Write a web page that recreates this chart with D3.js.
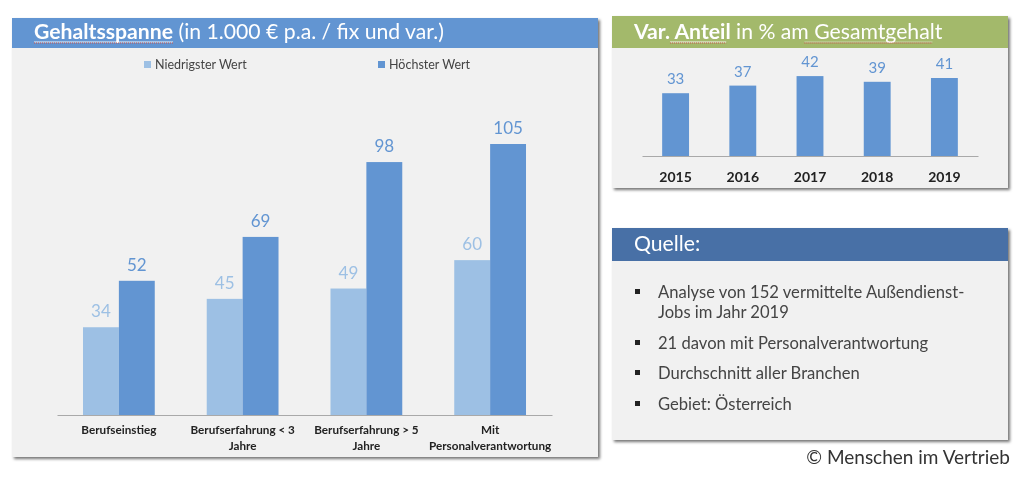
<!DOCTYPE html>
<html>
<head>
<meta charset="utf-8">
<script src="https://cdnjs.cloudflare.com/ajax/libs/d3/7.8.5/d3.min.js"></script>
<style>
  html, body { margin: 0; padding: 0; background: #fff; }
  svg { display: block; font-family: Lato, 'Open Sans', sans-serif; filter: blur(0.35px); }
  .panel { filter: drop-shadow(2px 2px 1.5px rgba(70, 70, 70, 0.75)); }
  .domain { stroke: #a9a9a9; stroke-width: 1; }
  .tick line { display: none; }
</style>
</head>
<body>
<div id="chart-area"></div>
<script>
let salaryCategories = [
  ['Berufseinstieg'],
  ['Berufserfahrung < 3', 'Jahre'],
  ['Berufserfahrung > 5', 'Jahre'],
  ['Mit', 'Personalverantwortung'],
];
let lowestValues = [34, 45, 49, 60];
let highestValues = [52, 69, 98, 105];
let seriesNames = ['Niedrigster Wert', 'Höchster Wert'];

let years = ['2015', '2016', '2017', '2018', '2019'];
let variableShare = [33, 37, 42, 39, 41];

let sourceLines = [
  ['Analyse von 152 vermittelte Außendienst-', 'Jobs im Jahr 2019'],
  ['21 davon mit Personalverantwortung'],
  ['Durchschnitt aller Branchen'],
  ['Gebiet: Österreich'],
];

let lightBlue = '#9dc0e4';
let midBlue = '#6295d2';
let width = 1024;
let height = 487;

let chart = d3
  .select('#chart-area')
  .append('svg')
  .attr('width', width)
  .attr('height', height);

//panel with coloured header bar
function panel(x, y, w, h, headerH, color) {
  let g = chart.append('g').attr('class', 'panel');
  g.append('rect').attr('x', x).attr('y', y).attr('width', w).attr('height', h).attr('fill', '#f1f1f1');
  g.append('rect').attr('x', x).attr('y', y).attr('width', w).attr('height', headerH).attr('fill', color);
}

//header text made of bold/regular runs, spell-check underline drawn under marked runs
function title(x, y, runs) {
  let t = chart
    .append('text')
    .attr('x', x)
    .attr('y', y)
    .attr('fill', '#fff')
    .style('font-size', '21.2px');
  let cursor = x;
  runs.forEach((r) => {
    let span = t
      .append('tspan')
      .style('font-weight', r.bold ? 700 : 400)
      .text(r.text);
    let len = span.node().getComputedTextLength();
    if (r.squiggle) {
      chart
        .append('line')
        .attr('x1', cursor)
        .attr('x2', cursor + len)
        .attr('y1', y + 3)
        .attr('y2', y + 3)
        .attr('stroke', '#fff')
        .attr('stroke-opacity', r.bold ? 0.9 : 0.45);
      chart
        .append('line')
        .attr('x1', cursor)
        .attr('x2', cursor + len)
        .attr('y1', y + 4)
        .attr('y2', y + 4)
        .attr('stroke', '#c9504a')
        .attr('stroke-dasharray', '1,1');
    }
    cursor += len;
  });
}

panel(12, 18, 586, 439, 30, '#6295d2');
panel(612, 16, 396, 172, 32, '#a3b96b');
panel(612, 228, 396, 212, 33, '#4870a6');

title(34, 39, [
  { text: 'Gehaltsspanne', bold: true, squiggle: true },
  { text: ' (in 1.000 € p.a. / fix und var.)' },
]);
title(634, 39, [
  { text: 'Var. ', bold: true },
  { text: 'Anteil', bold: true, squiggle: true },
  { text: ' in % am ' },
  { text: 'Gesamtgehalt', squiggle: true },
]);
title(634, 251, [{ text: 'Quelle:' }]);

//left chart: grouped bars
let xSalary = d3
  .scaleBand()
  .domain(d3.range(salaryCategories.length))
  .range([57, 552])
  .paddingInner(0.42)
  .paddingOuter(0.21);
let xGroup = d3.scaleBand().domain([0, 1]).range([0, xSalary.bandwidth()]);
let ySalary = d3.scaleLinear().domain([0, 105]).range([415, 144]);

chart
  .append('g')
  .attr('transform', 'translate(0, 415)')
  .call(d3.axisBottom(xSalary).tickSize(0).tickSizeOuter(0).tickFormat(''));

[lowestValues, highestValues].forEach((values, s) => {
  let color = s === 0 ? lightBlue : midBlue;
  chart
    .append('g')
    .selectAll('rect')
    .data(values)
    .enter()
    .append('rect')
    .attr('x', (d, i) => xSalary(i) + xGroup(s))
    .attr('y', (d) => ySalary(d))
    .attr('width', xGroup.bandwidth())
    .attr('height', (d) => ySalary(0) - ySalary(d))
    .attr('fill', color);
  chart
    .append('g')
    .selectAll('text')
    .data(values)
    .enter()
    .append('text')
    .attr('x', (d, i) => xSalary(i) + xGroup(s) + xGroup.bandwidth() / 2)
    .attr('y', (d) => ySalary(d) - 10)
    .attr('text-anchor', 'middle')
    .attr('fill', color)
    .style('font-size', '17px')
    .text((d) => d);
});

//two-line category labels
let catLabels = chart
  .append('g')
  .selectAll('text')
  .data(salaryCategories)
  .enter()
  .append('text')
  .attr('text-anchor', 'middle')
  .attr('fill', '#222')
  .style('font-size', '11.7px')
  .style('font-weight', 700);
catLabels
  .selectAll('tspan')
  .data((d, i) => d.map((line) => ({ line: line, i: i })))
  .enter()
  .append('tspan')
  .attr('x', (d) => xSalary(d.i) + xSalary.bandwidth() / 2)
  .attr('y', (d, j) => 434 + j * 16)
  .text((d) => d.line);

//legend
let legendX = d3.scaleOrdinal().domain(seriesNames).range([144, 378]);
let legend = chart.append('g');
legend
  .selectAll('rect')
  .data(seriesNames)
  .enter()
  .append('rect')
  .attr('x', (d) => legendX(d))
  .attr('y', 61)
  .attr('width', 7)
  .attr('height', 7)
  .attr('fill', (d, i) => (i === 0 ? lightBlue : midBlue));
legend
  .selectAll('text')
  .data(seriesNames)
  .enter()
  .append('text')
  .attr('x', (d) => legendX(d) + 11)
  .attr('y', 69)
  .attr('fill', '#444')
  .style('font-size', '12.5px')
  .text((d) => d);

//right chart
let xYear = d3.scaleBand().domain(years).range([642, 978]).paddingInner(0.6).paddingOuter(0.3);
let yShare = d3.scaleLinear().domain([0, 41]).range([156, 78]);

chart
  .append('g')
  .attr('transform', 'translate(0, 156)')
  .call(d3.axisBottom(xYear).tickSize(0).tickSizeOuter(0).tickPadding(0))
  .call((g) =>
    g
      .selectAll('.tick text')
      .attr('dy', 26)
      .attr('fill', '#222')
      .style('font-family', 'Lato, sans-serif')
      .style('font-size', '14px')
      .style('font-weight', 700),
  );

chart
  .append('g')
  .selectAll('rect')
  .data(variableShare)
  .enter()
  .append('rect')
  .attr('x', (d, i) => xYear(years[i]))
  .attr('y', (d) => yShare(d))
  .attr('width', xYear.bandwidth())
  .attr('height', (d) => yShare(0) - yShare(d))
  .attr('fill', midBlue);
chart
  .append('g')
  .selectAll('text')
  .data(variableShare)
  .enter()
  .append('text')
  .attr('x', (d, i) => xYear(years[i]) + xYear.bandwidth() / 2)
  .attr('y', (d) => yShare(d) - 9)
  .attr('text-anchor', 'middle')
  .attr('fill', midBlue)
  .style('font-size', '15px')
  .text((d) => d);

//source list
let ySource = [298, 349, 379, 410];
sourceLines.forEach((lines, i) => {
  chart
    .append('rect')
    .attr('x', 635)
    .attr('y', ySource[i] - 9)
    .attr('width', 5)
    .attr('height', 5)
    .attr('fill', '#222');
  lines.forEach((line, j) => {
    chart
      .append('text')
      .attr('x', 658)
      .attr('y', ySource[i] + j * 20)
      .attr('fill', '#444')
      .style('font-size', '16.6px')
      .text(line);
  });
});

chart
  .append('text')
  .attr('x', 1010)
  .attr('y', 464)
  .attr('text-anchor', 'end')
  .attr('fill', '#333')
  .style('font-size', '19px')
  .text('© Menschen im Vertrieb');
</script>
</body>
</html>
